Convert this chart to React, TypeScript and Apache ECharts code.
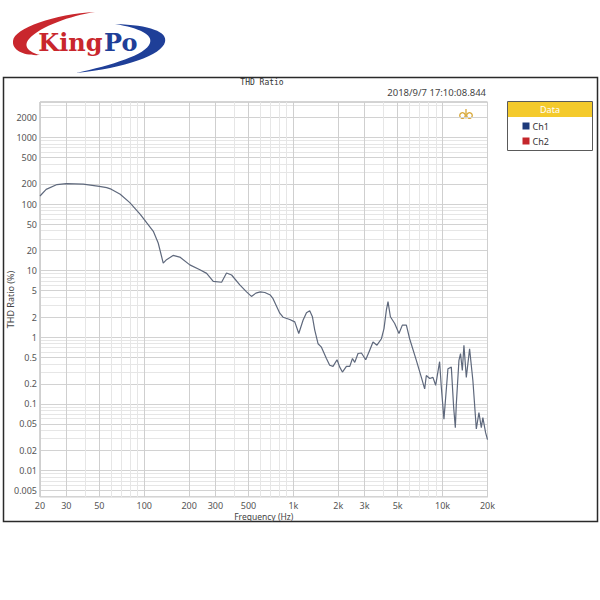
import React, { useEffect, useRef } from "react";
import * as echarts from "echarts";

// ---- data ----
const freqHz = [
  20, 22, 26, 30, 39, 50, 56, 60, 69, 80, 94, 104, 115, 124, 134, 141, 156, 173, 202, 236,
  262, 290, 330, 356, 385, 437, 485, 523, 560, 600, 643, 700, 730, 810, 852, 945, 1021, 1086,
  1160, 1223, 1286, 1341, 1390, 1462, 1541, 1664, 1750, 1843, 1960, 2044, 2130, 2266, 2386,
  2488, 2577, 2710, 2856, 3052, 3246, 3416, 3632, 3889, 4047, 4198, 4306, 4467, 4774, 5100,
  5372, 5716, 6012, 6668, 7206, 7582, 7780, 8200, 8618, 8985, 9550, 9806, 10210, 10860, 11440,
  11860, 12170, 12360, 12870, 13190, 13560, 13900, 14420, 15170, 15960, 16830, 17520, 18180,
  18620, 19420, 20000,
];
const thdPct = [
  132, 166, 196, 203, 199, 184, 176, 167, 140, 105, 70, 52, 39, 26, 13, 14.6, 16.9, 16, 12.2, 10.3,
  9.1, 6.9, 6.7, 9.2, 8.6, 6.1, 4.8, 4.1, 4.6, 4.8, 4.7, 4.3, 3.8, 2.3, 2.0, 1.85, 1.7, 1.14,
  1.8, 2.33, 2.5, 2.03, 1.28, 0.8, 0.71, 0.48, 0.38, 0.365, 0.46, 0.356, 0.3, 0.365, 0.365,
  0.48, 0.42, 0.57, 0.58, 0.46, 0.64, 0.85, 0.76, 0.95, 1.35, 2.56, 3.42, 2.03, 1.61, 1.14,
  1.52, 1.52, 0.95, 0.45, 0.25, 0.168, 0.267, 0.24, 0.25, 0.19, 0.43, 0.178, 0.059, 0.337, 0.356,
  0.089, 0.044, 0.1, 0.45, 0.57, 0.317, 0.757, 0.25, 0.67, 0.224, 0.042, 0.074, 0.044,
  0.062, 0.037, 0.029,
];

const xTickValues = [20, 30, 50, 100, 200, 300, 500, 1000, 2000, 3000, 5000, 10000, 20000];
const xTickLabels = ["20", "30", "50", "100", "200", "300", "500", "1k", "2k", "3k", "5k", "10k", "20k"];
const xMinorValues = [
  20, 30, 40, 50, 60, 70, 80, 90, 100, 200, 300, 400, 500, 600, 700, 800, 900,
  1000, 2000, 3000, 4000, 5000, 6000, 7000, 8000, 9000, 10000, 20000,
];
const yTickValues = [0.005, 0.01, 0.02, 0.05, 0.1, 0.2, 0.5, 1, 2, 5, 10, 20, 50, 100, 200, 500, 1000, 2000];
const yTickLabels = ["0.005", "0.01", "0.02", "0.05", "0.1", "0.2", "0.5", "1", "2", "5", "10", "20", "50", "100", "200", "500", "1000", "2000"];
const yMinorValues = [
  0.004, 0.005, 0.006, 0.007, 0.008, 0.009,
  0.01, 0.02, 0.03, 0.04, 0.05, 0.06, 0.07, 0.08, 0.09,
  0.1, 0.2, 0.3, 0.4, 0.5, 0.6, 0.7, 0.8, 0.9,
  1, 2, 3, 4, 5, 6, 7, 8, 9,
  10, 20, 30, 40, 50, 60, 70, 80, 90,
  100, 200, 300, 400, 500, 600, 700, 800, 900,
  1000, 2000, 3000,
];
const xRange = [20, 20000];
const yRange = [0.004, 3400];

// ---- logo shapes ----
const redSwoosh =
  "M 95 12 C 55 14 14 28 13 41 C 12 51 25 56 40 55 C 28 52 23 46 29 39 C 41 26 70 16 95 12 Z";
const blueSwoosh =
  "M 115 24 C 150 25 168 32 165 42 C 162 55 125 68 76 73 C 112 65 146 55 150 43 C 153 35 140 28 115 24 Z";
echarts.graphic.registerShape("kpRed", echarts.graphic.extendPath(redSwoosh, {}) as any);
echarts.graphic.registerShape("kpBlue", echarts.graphic.extendPath(blueSwoosh, {}) as any);

const L = Math.log10;

function labelFor(values: number[], labels: string[]) {
  return (v: number) => {
    const i = values.findIndex((t) => Math.abs(L(t) - v) < 1e-6);
    return i >= 0 ? labels[i] : "";
  };
}

export default function App() {
  const ref = useRef<HTMLDivElement>(null);
  useEffect(() => {
    if (!ref.current) return;
    const chart = echarts.init(ref.current, undefined, { renderer: "svg" });
    const seriesData = freqHz.map((f, i) => [L(f), L(thdPct[i])]);
    const axisFont = { fontFamily: "Noto Sans", fontSize: 9, color: "#555" };
    chart.setOption({
      animation: false,
      backgroundColor: "#ffffff",
      grid: {
        left: 40,
        right: 112.5,
        top: 102,
        bottom: 103,
        containLabel: false,
        outerBoundsMode: "none",
        show: true,
        borderColor: "#a8a8a8",
        borderWidth: 1,
        backgroundColor: "transparent",
      },
      xAxis: [
        {
          type: "value",
          min: L(xRange[0]),
          max: L(xRange[1]),
          position: "bottom",
          axisLine: { show: false },
          axisTick: { show: false, customValues: xMinorValues.map(L) },
          axisLabel: { show: false },
          splitLine: { show: true, lineStyle: { color: "#e6e6e6", width: 1 } },
        },
        {
          type: "value",
          min: L(xRange[0]),
          max: L(xRange[1]),
          position: "bottom",
          name: "Frequency (Hz)",
          nameLocation: "middle",
          nameGap: 15.5,
          nameMoveOverlap: false,
          nameTextStyle: { fontFamily: "Noto Sans", fontSize: 8.5, color: "#444", lineHeight: 8.5 },
          axisLine: { show: false },
          axisTick: { show: false, customValues: xTickValues.map(L) },
          axisLabel: {
            ...axisFont,
            lineHeight: 9,
            margin: 4,
            customValues: xTickValues.map(L),
            formatter: labelFor(xTickValues, xTickLabels),
          },
          splitLine: { show: true, lineStyle: { color: "#cfcfcf", width: 1 } },
        },
      ],
      yAxis: [
        {
          type: "value",
          min: L(yRange[0]),
          max: L(yRange[1]),
          axisLine: { show: false },
          axisTick: { show: false, customValues: yMinorValues.map(L) },
          axisLabel: { show: false },
          splitLine: { show: true, lineStyle: { color: "#e6e6e6", width: 1 } },
        },
        {
          type: "value",
          min: L(yRange[0]),
          max: L(yRange[1]),
          position: "left",
          name: "THD Ratio (%)",
          nameLocation: "middle",
          nameGap: 25,
          nameMoveOverlap: false,
          nameTextStyle: { ...axisFont, color: "#444" },
          axisLine: { show: false },
          axisTick: { show: false, customValues: yTickValues.map(L) },
          axisLabel: {
            ...axisFont,
            margin: 3,
            customValues: yTickValues.map(L),
            formatter: labelFor(yTickValues, yTickLabels),
          },
          splitLine: { show: true, lineStyle: { color: "#d2d2d2", width: 1 } },
        },
      ],
      series: [
        {
          name: "Ch1",
          type: "line",
          xAxisIndex: 0,
          yAxisIndex: 0,
          data: seriesData,
          showSymbol: false,
          symbol: "none",
          smooth: false,
          lineStyle: { color: "#5e687c", width: 1.2 },
          z: 5,
        },
      ],
      graphic: [
        // outer frame
        {
          type: "rect",
          shape: { x: 3.5, y: 77.5, width: 594, height: 444 },
          style: { fill: "none", stroke: "#2a2a2a", lineWidth: 1.5 },
          silent: true,
        },
        // logo
        { type: "kpRed", x: 0, y: 0, style: { fill: "#c9272d" }, silent: true },
        { type: "kpBlue", x: 0, y: 0, style: { fill: "#1f3f98" }, silent: true },
        {
          type: "text",
          x: 102.5,
          y: 42,
          style: {
            text: "King",
            fill: "#c9272d",
            font: "bold 24px 'DejaVu Serif'",
            verticalAlign: "middle",
            align: "right",
          },
          silent: true,
        },
        {
          type: "text",
          x: 104,
          y: 42,
          style: {
            text: "Po",
            fill: "#1f3f98",
            font: "bold 24px 'DejaVu Serif'",
            verticalAlign: "middle",
            align: "left",
          },
          silent: true,
        },
        // title & timestamp
        {
          type: "text",
          x: 262,
          y: 82,
          style: {
            text: "THD Ratio",
            fill: "#333",
            font: "8px 'DejaVu Sans Mono'",
            align: "center",
            verticalAlign: "middle",
          },
          silent: true,
        },
        {
          type: "text",
          x: 486,
          y: 92.5,
          style: {
            text: "2018/9/7 17:10:08.844",
            fill: "#444",
            font: "9.5px 'Noto Sans'",
            align: "right",
            verticalAlign: "middle",
          },
          silent: true,
        },
        // small gold emblem
        {
          type: "circle",
          shape: { cx: 462.5, cy: 115.5, r: 2.8 },
          style: { fill: "none", stroke: "#d8a93a", lineWidth: 1.3 },
          silent: true,
        },
        {
          type: "circle",
          shape: { cx: 469.5, cy: 115.5, r: 2.8 },
          style: { fill: "none", stroke: "#d8a93a", lineWidth: 1.3 },
          silent: true,
        },
        {
          type: "line",
          shape: { x1: 466, y1: 109, x2: 466, y2: 118.5 },
          style: { stroke: "#d8a93a", lineWidth: 1.3 },
          silent: true,
        },
        // legend box
        {
          type: "rect",
          shape: { x: 507.5, y: 101.5, width: 85, height: 49 },
          style: { fill: "#fff", stroke: "#5a5a5a", lineWidth: 1 },
          silent: true,
        },
        {
          type: "rect",
          shape: { x: 508, y: 102, width: 84, height: 15 },
          style: { fill: "#f4ca2c" },
          silent: true,
        },
        {
          type: "text",
          x: 550,
          y: 109.5,
          style: {
            text: "Data",
            fill: "#ffffff",
            font: "9px 'Noto Sans'",
            align: "center",
            verticalAlign: "middle",
          },
          silent: true,
        },
        {
          type: "rect",
          shape: { x: 522.5, y: 122.5, width: 7, height: 7 },
          style: { fill: "#1d3a7a" },
          silent: true,
        },
        {
          type: "text",
          x: 532.5,
          y: 126,
          style: { text: "Ch1", fill: "#333", font: "9px 'Noto Sans'", align: "left", verticalAlign: "middle" },
          silent: true,
        },
        {
          type: "rect",
          shape: { x: 522.5, y: 137.5, width: 7, height: 7 },
          style: { fill: "#c4262b" },
          silent: true,
        },
        {
          type: "text",
          x: 532.5,
          y: 141,
          style: { text: "Ch2", fill: "#333", font: "9px 'Noto Sans'", align: "left", verticalAlign: "middle" },
          silent: true,
        },
      ],
    });
    return () => chart.dispose();
  }, []);
  return (
    <div
      ref={ref}
      style={{ position: "absolute", left: 0, top: 0, width: 600, height: 600, background: "#fff" }}
    />
  );
}
